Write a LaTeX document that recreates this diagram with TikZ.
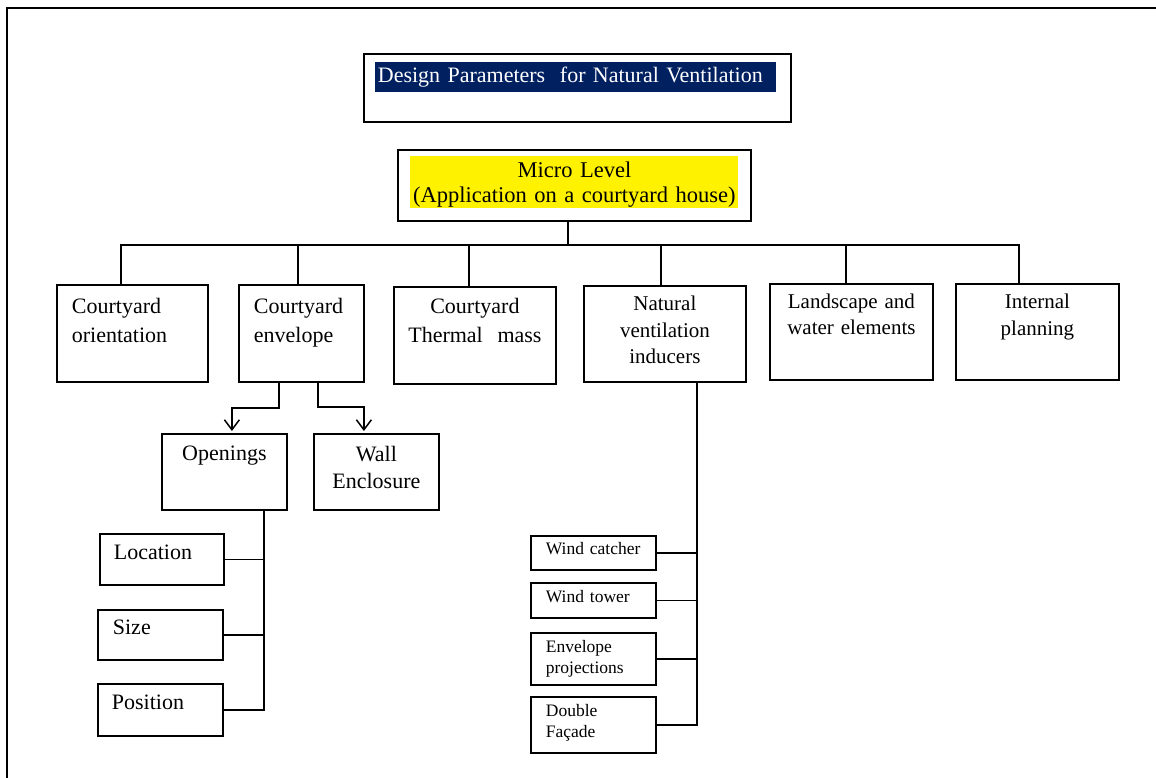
\documentclass[tikz,border=0pt]{standalone}
\usepackage{fontspec}
\setmainfont{Liberation Serif}
\usepackage{xcolor}
\usepackage{tikz}
\usetikzlibrary{arrows.meta}
\definecolor{titleblue}{RGB}{0,32,96}

\begin{document}
\begin{tikzpicture}[x=1pt, y=-1pt,
        box/.style={draw, line width=1.8pt, rectangle, anchor=north west, inner sep=0pt, font=\fontsize{22}{29}\selectfont},
        small/.style={font=\fontsize{17.5}{21}\selectfont},
        link/.style={line width=1.5pt},
        arrow/.style={link, -{Straight Barb[length=10pt, width=15pt]}, shorten >=2pt}]
        \useasboundingbox (0,0) rectangle (1156,778);

        % page frame and highlights
        \draw[line width=2pt] (7,790) -- (7,8) -- (1170,8);
        \fill[titleblue] (375,62) rectangle (776,92);
        \fill[yellow] (410,156) rectangle (738,208);

        % level 0: title
        \begin{scope}[name prefix=top-]
            \node[box, text=white, align=left, inner xsep=14pt, text width=399pt, text height=29pt, text depth=39pt] (title) at (363,53) {Design Parameters\ \ for Natural Ventilation};
            \node[box, align=center, text width=353pt, text height=28pt, text depth=43pt, font=\fontsize{22.5}{25}\selectfont] (micro) at (397,149) {Micro Level\\(Application on a courtyard house)};
        \end{scope}

        % level 1: parameters
        \begin{scope}[name prefix=param-]
            \node[box, align=left, inner xsep=15pt, text width=121pt, text height=29pt, text depth=68pt] (orient) at (56,284) {Courtyard\\orientation};
            \node[box, align=left, inner xsep=15pt, text width=95pt, text height=29pt, text depth=68pt] (envelope) at (238,284) {Courtyard\\envelope};
            \node[box, align=center, text width=162pt, text height=27pt, text depth=70pt] (thermal) at (393,286) {Courtyard\\Thermal\ \ mass};
            \node[box, align=center, text width=162pt, text height=25pt, text depth=71pt, font=\fontsize{21}{26.5}\selectfont] (inducers) at (583,285) {Natural\\ventilation\\inducers};
            \node[box, align=center, text width=163pt, text height=25pt, text depth=71pt, font=\fontsize{21}{26}\selectfont] (landscape) at (769,283) {Landscape and\\water elements};
            \node[box, align=center, text width=163pt, text height=25pt, text depth=71pt, font=\fontsize{21}{27}\selectfont] (internal) at (955,283) {Internal\\planning};
        \end{scope}

        % level 2: envelope
        \begin{scope}[name prefix=env-]
            \node[box, align=center, text width=125pt, text height=27pt, text depth=49pt] (openings) at (161,433) {Openings};
            \node[box, align=center, text width=125pt, text height=28pt, text depth=48pt, font=\fontsize{22}{27}\selectfont] (wall) at (313,433) {Wall\\Enclosure};
        \end{scope}

        % level 3: openings
        \begin{scope}[name prefix=open-]
            \node[box, align=left, inner xsep=14pt, text width=96pt, text height=26pt, text depth=25pt] (location) at (99,533) {Location};
            \node[box, align=left, inner xsep=15pt, text width=95pt, text height=25pt, text depth=25pt] (size) at (97,609) {Size};
            \node[box, align=left, inner xsep=14pt, text width=97pt, text height=26pt, text depth=26pt] (position) at (97,683) {Position};
        \end{scope}

        % level 2: ventilation inducers
        \begin{scope}[name prefix=ind-]
            \node[box, small, align=left, inner xsep=15pt, text width=95pt, text height=19pt, text depth=15pt] (catcher) at (530,535) {Wind catcher};
            \node[box, small, align=left, inner xsep=15pt, text width=95pt, text height=20pt, text depth=15pt] (tower) at (530,582) {Wind tower};
            \node[box, small, align=left, inner xsep=15pt, text width=95pt, text height=20pt, text depth=32pt] (projections) at (530,632) {Envelope\\projections};
            \node[box, small, align=left, inner xsep=15pt, text width=95pt, text height=20pt, text depth=36pt] (facade) at (530,696) {Double\\Façade};
        \end{scope}

        % connectors
        \draw[link] ([xshift=-6.5pt]top-micro.south) -- ++(0,23) coordinate (bus);
        \foreach \n/\dx in {orient/-11.5, envelope/-3.5, thermal/-6, inducers/-4, landscape/-5.5, internal/-18.5} {
            \draw[link] (bus) -| ([xshift=\dx pt]param-\n.north);
        }
        \draw[arrow] ([xshift=-22.5pt]param-envelope.south) -- ++(0,25) -| ([xshift=7.5pt]env-openings.north);
        \draw[arrow] ([xshift=16.5pt]param-envelope.south) -- ++(0,24) -| ([xshift=-12.5pt]env-wall.north);
        \foreach \n in {location, size, position} {
            \draw[link] ([xshift=39.5pt]env-openings.south) |- (open-\n.east);
        }
        \foreach \n in {catcher, tower, projections, facade} {
            \draw[link] ([xshift=32pt]param-inducers.south) |- (ind-\n.east);
        }
    \end{tikzpicture}
\end{document}
